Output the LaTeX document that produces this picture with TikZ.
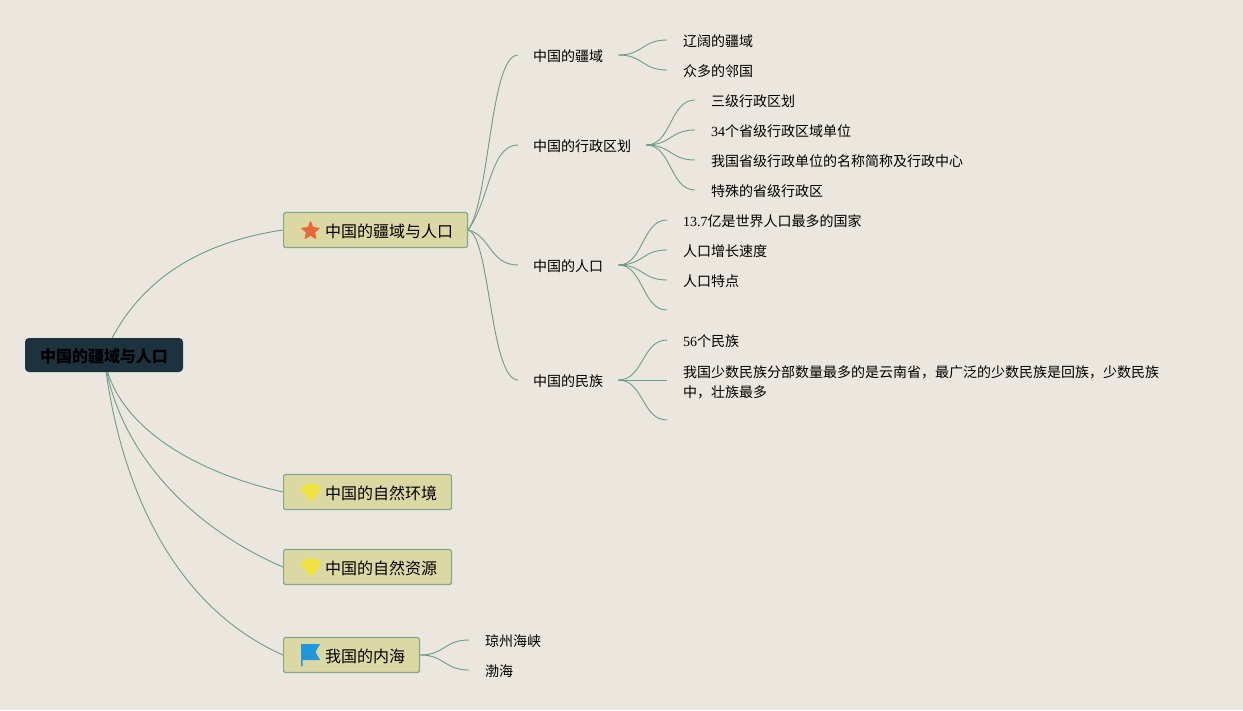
\documentclass[tikz,border=0pt]{standalone}
\usepackage{fontspec}
\setmainfont{Noto Sans CJK SC}
\newfontfamily\dig{Liberation Serif}
\usetikzlibrary{shapes.geometric,backgrounds}
\definecolor{paper}{HTML}{EBE6DE}
\definecolor{linkc}{HTML}{6A9E8A}
\definecolor{rootc}{HTML}{1C323E}
\definecolor{boxc}{HTML}{DBD8A4}
\definecolor{boxl}{HTML}{82A98E}
\definecolor{starc}{HTML}{E8683A}
\definecolor{gemc}{HTML}{F2E33C}
\definecolor{gemh}{HTML}{E9DC5A}
\definecolor{flagc}{HTML}{1E97DD}
\tikzset{
  rootbox/.style={rectangle,rounded corners=4pt,fill=rootc,minimum width=158pt,minimum height=34pt,inner sep=0pt,font=\fontsize{16}{20}\selectfont\bfseries,text=black},
  topicbox/.style={rectangle,rounded corners=1.5pt,fill=boxc,draw=boxl,line width=1.2pt,anchor=west,minimum height=35pt,inner xsep=14.4pt,inner ysep=0pt,font=\fontsize{16}{20}\selectfont,text=black},
  subtopic/.style={anchor=west,inner xsep=15pt,inner ysep=0pt,font=\fontsize{14}{20}\selectfont,text=black,align=left},
  leaf/.style={anchor=west,inner xsep=16pt,inner ysep=0pt,font=\fontsize{14}{20}\selectfont,text=black,align=left},
  link/.style={draw=linkc,line width=.9pt},
  iconstar/.style={star,star points=5,star point ratio=2.2,fill=starc,draw=starc,line width=1.2pt,line join=round,minimum size=18pt,inner sep=0pt},
  icongem/.style={fill=gemc,rounded corners=1pt},
  iconflag/.style={fill=flagc}
}
\newcommand{\rootdn}[1]{\raisebox{0pt}[15pt][1pt]{#1}}
\newcommand{\boxdn}[1]{\raisebox{0pt}[16pt][1pt]{#1}}
\begin{document}
\begin{tikzpicture}[x=1pt,y=-1pt]
\useasboundingbox (0,0) rectangle (1243,710);
% nodes
\node[rootbox] (root) at (104,355) {\rootdn{中国的疆域与人口}};
\node[topicbox] (t1) at (283,230) {\hspace*{27pt}\boxdn{中国的疆域与人口}};
\node[topicbox] (t2) at (283,492) {\hspace*{27pt}\boxdn{中国的自然环境}};
\node[topicbox] (t3) at (283,567) {\hspace*{27pt}\boxdn{中国的自然资源}};
\node[topicbox] (t4) at (283,655) {\hspace*{27pt}\boxdn{我国的内海}};
\node[iconstar] (istar) at (310.5,231) {};
\fill[icongem] (304,484) -- (318,484) -- (321,489.5) -- (311,502) -- (301,489.5) -- cycle;
\fill[gemh] (309.5,489) rectangle (312.5,492);
\fill[icongem] (304,559) -- (318,559) -- (321,564.5) -- (311,577) -- (301,564.5) -- cycle;
\fill[gemh] (309.5,564) rectangle (312.5,567);
\fill[iconflag] (301,644) -- (320,644) -- (315.5,652) -- (320,660) -- (302.5,660) -- (302.5,666) -- (301,666) -- cycle;
\node[subtopic] (s1) at (518,56) {中国的疆域};
\node[subtopic] (s2) at (518,146) {中国的行政区划};
\node[subtopic] (s3) at (518,266) {中国的人口};
\node[subtopic] (s4) at (518,381) {中国的民族};
\node[leaf] (a1) at (667,41) {辽阔的疆域};
\node[leaf] (a2) at (667,71) {众多的邻国};
\node[leaf] (b1) at (695,101) {三级行政区划};
\node[leaf] (b2) at (695,131) {{\dig 34}个省级行政区域单位};
\node[leaf] (b3) at (695,161) {我国省级行政单位的名称简称及行政中心};
\node[leaf] (b4) at (695,191) {特殊的省级行政区};
\node[leaf] (c1) at (667,221) {{\dig 13.7}亿是世界人口最多的国家};
\node[leaf] (c2) at (667,251) {人口增长速度};
\node[leaf] (c3) at (667,281) {人口特点};
\coordinate (c4) at (667,310);
\node[leaf] (d1) at (667,341) {{\dig 56}个民族};
\node[leaf] (d2) at (667,382.3) {我国少数民族分部数量最多的是云南省，最广泛的少数民族是回族，少数民族\\中，壮族最多};
\coordinate (d3) at (667,420);
\node[leaf] (e1) at (469,641) {琼州海峡};
\node[leaf] (e2) at (469,671) {渤海};
% connectors
\begin{scope}[on background layer]
\fill[paper] (0,0) rectangle (1243,710);
\draw[link] (root.center) .. controls (140,270) and (215,240) .. (t1.west);
\draw[link] (root.center) .. controls (112,420) and (185,470) .. (t2.west);
\draw[link] (root.center) .. controls (115,445) and (185,525) .. (t3.west);
\draw[link] (root.center) .. controls (118,480) and (170,605) .. (t4.west);
\foreach \k in {s1,s2}
  \draw[link] (t1.east) .. controls +(22,-30) and +(-28,0) .. ([yshift=1pt]\k.west);
\foreach \k in {s3,s4}
  \draw[link] (t1.east) .. controls +(22,5) and +(-28,0) .. ([yshift=1pt]\k.west);
\foreach \k in {a1,a2}
  \draw[link] ([yshift=1pt]s1.east) .. controls +(25,0) and +(-25,0) .. ([yshift=1pt]\k.west);
\foreach \k in {b1,b2,b3,b4}
  \draw[link] ([yshift=1pt]s2.east) .. controls +(25,0) and +(-25,0) .. ([yshift=1pt]\k.west);
\foreach \k in {c1,c2,c3}
  \draw[link] ([yshift=1pt]s3.east) .. controls +(25,0) and +(-25,0) .. ([yshift=1pt]\k.west);
\draw[link] ([yshift=1pt]s3.east) .. controls +(25,0) and +(-25,0) .. (c4);
\draw[link] ([yshift=1pt]s4.east) .. controls +(25,0) and +(-25,0) .. ([yshift=1pt]d1.west);
\draw[link] ([yshift=1pt]s4.east) .. controls +(25,0) and +(-25,0) .. ([yshift=2.3pt]d2.west);
\draw[link] ([yshift=1pt]s4.east) .. controls +(25,0) and +(-25,0) .. (d3);
\foreach \k in {e1,e2}
  \draw[link] (t4.east) .. controls +(25,0) and +(-25,0) .. ([yshift=1pt]\k.west);
\end{scope}
\end{tikzpicture}
\end{document}
